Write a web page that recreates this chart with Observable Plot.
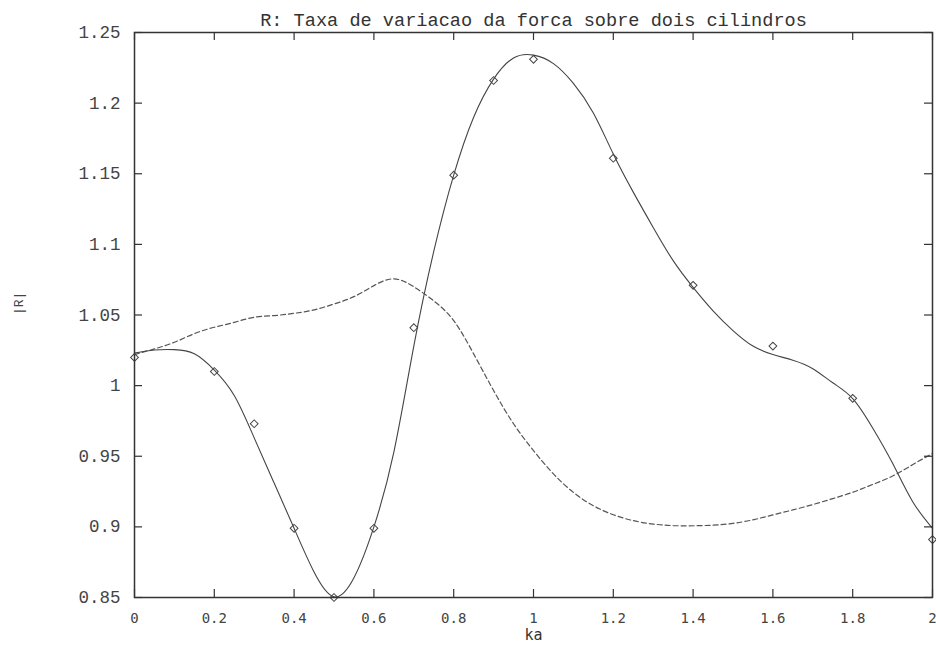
<!DOCTYPE html>
<html><head><meta charset="utf-8">
<script src="https://cdn.jsdelivr.net/npm/d3@7"></script>
<script src="https://cdn.jsdelivr.net/npm/@observablehq/plot@0.6"></script>
<style>body{margin:0;background:#fff}</style>
</head><body><div id="chart"></div>
<script>
const title = "R: Taxa de variacao da forca sobre dois cilindros";
const xLabel = "ka";
const yLabel = "|R|";
const xTicks = [0, 0.2, 0.4, 0.6, 0.8, 1, 1.2, 1.4, 1.6, 1.8, 2];
const yTicks = [0.85, 0.9, 0.95, 1, 1.05, 1.1, 1.15, 1.2, 1.25];

// measured points (diamonds)
const markerKa = [0, 0.2, 0.3, 0.4, 0.5, 0.6, 0.7, 0.8, 0.9, 1.0, 1.2, 1.4, 1.6, 1.8, 2.0];
const markerR  = [1.020, 1.010, 0.973, 0.899, 0.850, 0.899, 1.041, 1.149, 1.216, 1.231, 1.161, 1.071, 1.028, 0.991, 0.891];

// solid curve
const solidKa = [0, 0.05, 0.1, 0.15, 0.2, 0.25, 0.3, 0.35, 0.4, 0.45, 0.5, 0.55, 0.6, 0.65, 0.7, 0.75, 0.8, 0.85, 0.9, 0.95, 1.0, 1.05, 1.1, 1.15, 1.2, 1.25, 1.3, 1.35, 1.4, 1.45, 1.5, 1.55, 1.6, 1.65, 1.7, 1.75, 1.8, 1.85, 1.9, 1.95, 2.0];
const solidR  = [1.023, 1.0252, 1.0255, 1.0225, 1.011, 0.993, 0.963, 0.931, 0.899, 0.868, 0.8505, 0.864, 0.900, 0.953, 1.028, 1.095, 1.149, 1.190, 1.217, 1.232, 1.234, 1.228, 1.214, 1.193, 1.164, 1.137, 1.112, 1.0885, 1.0696, 1.053, 1.039, 1.028, 1.022, 1.018, 1.012, 1.002, 0.9908, 0.970, 0.945, 0.918, 0.899];

// dashed curve
const dashedKa = [0, 0.05, 0.1, 0.15, 0.2, 0.25, 0.3, 0.35, 0.4, 0.45, 0.5, 0.55, 0.6, 0.65, 0.7, 0.75, 0.8, 0.85, 0.9, 0.95, 1.0, 1.05, 1.1, 1.15, 1.2, 1.25, 1.3, 1.35, 1.4, 1.45, 1.5, 1.55, 1.6, 1.65, 1.7, 1.75, 1.8, 1.85, 1.9, 1.95, 2.0];
const dashedR  = [1.022, 1.026, 1.0307, 1.0368, 1.0413, 1.0448, 1.0484, 1.0496, 1.0512, 1.0536, 1.0578, 1.063, 1.0708, 1.0756, 1.070, 1.060, 1.046, 1.0225, 0.9965, 0.973, 0.954, 0.9375, 0.9244, 0.915, 0.9086, 0.9044, 0.902, 0.9009, 0.9008, 0.9012, 0.9025, 0.905, 0.9085, 0.912, 0.9158, 0.920, 0.9245, 0.930, 0.936, 0.944, 0.952];

const markers = markerKa.map((k, i) => ({ka: k, r: markerR[i]}));
const solid = solidKa.map((k, i) => ({ka: k, r: solidR[i]}));
const dashed = dashedKa.map((k, i) => ({ka: k, r: dashedR[i]}));

const W = 936, H = 648, mL = 134, mR = 4, mT = 32, mB = 51;
const innerW = W - mL - mR, innerH = H - mT - mB;
const tickLen = 8;
const mono = "Liberation Mono, Courier New, monospace";
const mono2 = "DejaVu Sans Mono, monospace";
const ink = "#333";

const chart = Plot.plot({
  width: W, height: H,
  marginLeft: mL, marginRight: mR, marginTop: mT, marginBottom: mB,
  x: {domain: [0, 2]},
  y: {domain: [0.85, 1.25]},
  marks: [
    Plot.line(dashed, {x: "ka", y: "r", curve: "natural", stroke: "#555", strokeWidth: 1.2, strokeDasharray: "5,3"}),
    Plot.line(solid, {x: "ka", y: "r", curve: "natural", stroke: "#444", strokeWidth: 1.1}),
    Plot.dot(markers, {x: "ka", y: "r", symbol: "square", r: 3.1, rotate: 45, stroke: "#444", strokeWidth: 1, fill: "none"}),
    // inward ticks on all four sides
    Plot.tickX(xTicks, {x: d => d, insetTop: innerH - tickLen, stroke: ink, strokeWidth: 1.2}),
    Plot.tickX(xTicks, {x: d => d, insetBottom: innerH - tickLen, stroke: ink, strokeWidth: 1.2}),
    Plot.tickY(yTicks, {y: d => d, insetRight: innerW - tickLen, stroke: ink, strokeWidth: 1.2}),
    Plot.tickY(yTicks, {y: d => d, insetLeft: innerW - tickLen, stroke: ink, strokeWidth: 1.2}),
    Plot.axisX(xTicks, {anchor: "bottom", tickSize: 0, tickPadding: 16, tickFormat: d => String(d), fontSize: 14, fontFamily: mono2, fill: "#444", label: null}),
    Plot.axisY(yTicks, {anchor: "left", tickSize: 0, tickPadding: 14, tickFormat: d => String(d), fontSize: 17.5, fontFamily: mono, fill: "#444", label: null}),
    Plot.frame({stroke: ink, strokeWidth: 1.5}),
    Plot.text([title], {frameAnchor: "top", dy: -20, text: d => d, fontSize: 18.6, fontFamily: mono, fill: "#333"}),
    Plot.text([xLabel], {frameAnchor: "bottom", dy: 42, text: d => d, fontSize: 15, fontFamily: mono2, fill: "#333"}),
    Plot.text([yLabel], {frameAnchor: "left", dx: -116, rotate: -90, text: d => d, fontSize: 13, fontFamily: mono, fill: "#444"})
  ]
});
document.getElementById("chart").appendChild(chart);
</script>
</body></html>
